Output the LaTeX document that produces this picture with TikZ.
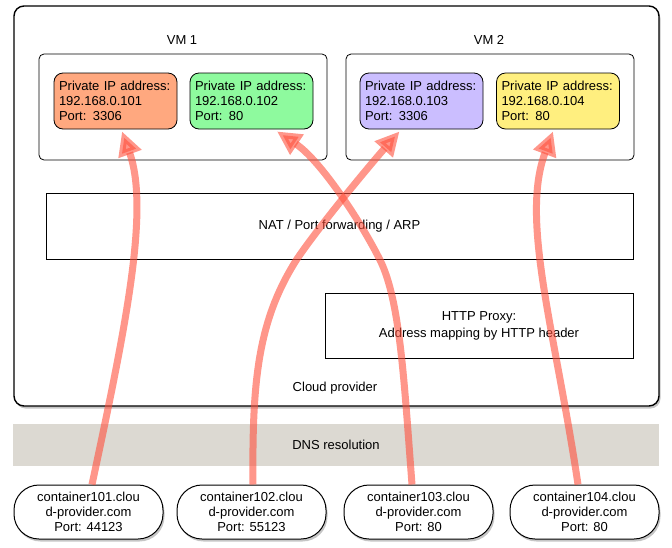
\documentclass[tikz,border=0pt]{standalone}
\usepackage{fontspec}
\setmainfont{Liberation Sans}
\usetikzlibrary{arrows.meta,shadows}

\definecolor{ipone}{RGB}{255,168,127}
\definecolor{iptwo}{RGB}{142,250,158}
\definecolor{ipthree}{RGB}{203,190,255}
\definecolor{ipfour}{RGB}{255,239,127}
\definecolor{dnsgray}{RGB}{220,217,210}
\definecolor{flowred}{RGB}{255,80,60}

\tikzset{
  vmbox/.style={draw, rounded corners=5pt, line width=0.8pt,
    minimum width=288pt, minimum height=106pt},
  ipbox/.style={draw, rounded corners=9pt, line width=0.8pt,
    minimum height=56pt, text width=113pt, inner xsep=5pt, align=left},
  layerbox/.style={draw, line width=0.8pt},
  hostbox/.style={draw, fill=white, rounded corners=25pt, line width=1pt,
    minimum width=149pt, minimum height=54pt, align=center,
    drop shadow={shadow xshift=1.5pt, shadow yshift=-2.5pt, fill=black!45}},
  flow/.style={line width=7pt, draw=flowred, opacity=0.6,
    -{Triangle[length=24pt,width=23pt]}},
}

\begin{document}
\begin{tikzpicture}[x=1pt, y=-1pt, font=\fontsize{13}{15}\selectfont]
      \useasboundingbox (0,0) rectangle (672,547);
      % cloud provider
      \node[draw, fill=white, rounded corners=10pt, line width=1.4pt,
        minimum width=645pt, minimum height=400pt,
        drop shadow={shadow xshift=1.5pt, shadow yshift=-2.5pt, fill=black!45}]
        (cloud) at (336.5,206) {};
      \node (cloudlbl) at (335,388) {Cloud provider};

      % virtual machines
      \node (vmlbl1) at (182,40) {VM 1};
      \node (vmlbl2) at (489,40) {VM 2};
      \node[vmbox] (vm1) at (183,107) {};
      \node[vmbox] (vm2) at (490,107) {};
      \node[ipbox, fill=ipone] (ip1) at (115.5,101)
        {Private IP address:\\192.168.0.101\\Port: 3306};
      \node[ipbox, fill=iptwo] (ip2) at (251.5,101)
        {Private IP address:\\192.168.0.102\\Port: 80};
      \node[ipbox, fill=ipthree] (ip3) at (421.5,101)
        {Private IP address:\\192.168.0.103\\Port: 3306};
      \node[ipbox, fill=ipfour] (ip4) at (558,101)
        {Private IP address:\\192.168.0.104\\Port: 80};

      % layers
      \node[layerbox, minimum width=587pt, minimum height=66pt] (nat)
        at (339.5,226) {NAT / Port forwarding / ARP};
      \node[layerbox, minimum width=308pt, minimum height=65pt, align=center]
        (proxy) at (479,325.5) {HTTP Proxy:\\[2pt]Address mapping by HTTP header};
      \node[fill=dnsgray, minimum width=646pt, minimum height=42pt] (dns)
        at (336,445) {DNS resolution};

      % hosts
      \node[hostbox] (c101) at (88.5,512)
        {container101.clou\\d-provider.com\\Port: 44123};
      \node[hostbox] (c102) at (251.5,512)
        {container102.clou\\d-provider.com\\Port: 55123};
      \node[hostbox] (c103) at (418.5,512)
        {container103.clou\\d-provider.com\\Port: 80};
      \node[hostbox] (c104) at (584.5,512)
        {container104.clou\\d-provider.com\\Port: 80};

      % flows
      \draw[flow] ([xshift=3.5pt]c101.north) .. controls (125,330) and (150,210)
        .. ([xshift=6.5pt, yshift=-2pt]ip1.south);
      \draw[flow] ([xshift=1.5pt]c102.north) .. controls (252,380) and (258,320)
        .. (297,259) .. controls (320,225) and (370,165)
        .. ([xshift=-22pt, yshift=-2pt]ip3.south);
      \draw[flow] ([xshift=-6.5pt]c103.north) .. controls (404,380) and (400,300)
        .. (380,260) .. controls (360,220) and (320,160)
        .. ([xshift=25.5pt, yshift=-2pt]ip2.south);
      \draw[flow] ([xshift=-6.5pt]c104.north) .. controls (555,330) and (520,220)
        .. ([xshift=-5pt, yshift=-2pt]ip4.south);
\end{tikzpicture}
\end{document}
